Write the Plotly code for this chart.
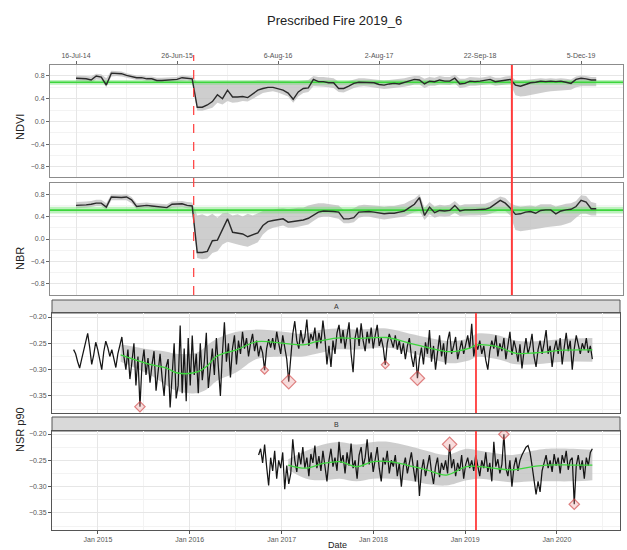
import pandas as pd
import plotly.graph_objects as go

W, H = 627, 550

# ---------------- top panels: per-observation index series ----------------
obs_tick_index = [0, 20, 40, 60, 80, 100]
obs_tick_labels = ["16-Jul-14", "26-Jun-15", "6-Aug-16", "2-Aug-17", "22-Sep-18", "5-Dec-19"]

ndvi = [0.76, 0.76, 0.75, 0.73, 0.80, 0.78, 0.64, 0.85, 0.85, 0.84,
        0.81, 0.79, 0.77, 0.77, 0.75, 0.75, 0.72, 0.72, 0.73, 0.73,
        0.74, 0.77, 0.76, 0.75, 0.25, 0.25, 0.29, 0.35, 0.47, 0.40,
        0.55, 0.43, 0.43, 0.44, 0.42, 0.48, 0.55, 0.58, 0.60, 0.60,
        0.58, 0.55, 0.50, 0.39, 0.52, 0.58, 0.59, 0.74, 0.70, 0.70,
        0.68, 0.68, 0.58, 0.58, 0.62, 0.67, 0.69, 0.69, 0.68, 0.68,
        0.65, 0.64, 0.66, 0.67, 0.66, 0.69, 0.71, 0.74, 0.73, 0.66,
        0.71, 0.70, 0.73, 0.71, 0.71, 0.76, 0.66, 0.67, 0.71, 0.70,
        0.71, 0.72, 0.74, 0.70, 0.71, 0.73, 0.74, 0.64, 0.62, 0.65,
        0.68, 0.69, 0.71, 0.70, 0.71, 0.70, 0.71, 0.69, 0.67, 0.74,
        0.76, 0.75, 0.73, 0.73]
ndvi_lo = [0.71, 0.71, 0.70, 0.68, 0.74, 0.73, 0.60, 0.79, 0.80, 0.79,
           0.77, 0.75, 0.73, 0.73, 0.71, 0.71, 0.68, 0.68, 0.69, 0.69,
           0.70, 0.72, 0.72, 0.70, 0.19, 0.19, 0.21, 0.24, 0.33, 0.30,
           0.36, 0.33, 0.34, 0.36, 0.35, 0.40, 0.46, 0.50, 0.52, 0.53,
           0.51, 0.48, 0.44, 0.33, 0.44, 0.50, 0.52, 0.62, 0.62, 0.61,
           0.60, 0.59, 0.52, 0.51, 0.55, 0.59, 0.61, 0.62, 0.61, 0.60,
           0.58, 0.57, 0.58, 0.59, 0.59, 0.61, 0.63, 0.65, 0.65, 0.59,
           0.63, 0.63, 0.65, 0.64, 0.64, 0.67, 0.59, 0.60, 0.63, 0.63,
           0.64, 0.64, 0.66, 0.63, 0.64, 0.65, 0.66, 0.46, 0.44, 0.45,
           0.47, 0.49, 0.51, 0.52, 0.53, 0.54, 0.55, 0.56, 0.56, 0.60,
           0.62, 0.62, 0.62, 0.62]
ndvi_hi = [0.81, 0.81, 0.80, 0.79, 0.84, 0.83, 0.76, 0.89, 0.89, 0.88,
           0.85, 0.83, 0.81, 0.81, 0.79, 0.79, 0.77, 0.77, 0.77, 0.77,
           0.78, 0.81, 0.80, 0.79, 0.68, 0.68, 0.68, 0.69, 0.70, 0.70,
           0.71, 0.71, 0.70, 0.71, 0.70, 0.71, 0.72, 0.72, 0.72, 0.72,
           0.72, 0.71, 0.71, 0.70, 0.71, 0.72, 0.73, 0.80, 0.78, 0.78,
           0.77, 0.76, 0.70, 0.69, 0.71, 0.74, 0.76, 0.76, 0.75, 0.75,
           0.73, 0.72, 0.73, 0.74, 0.74, 0.76, 0.78, 0.80, 0.80, 0.75,
           0.78, 0.77, 0.80, 0.78, 0.78, 0.82, 0.75, 0.75, 0.78, 0.77,
           0.77, 0.78, 0.80, 0.77, 0.77, 0.79, 0.80, 0.73, 0.72, 0.73,
           0.74, 0.75, 0.76, 0.75, 0.76, 0.75, 0.76, 0.75, 0.74, 0.79,
           0.81, 0.80, 0.78, 0.78]

nbr = [0.60, 0.60, 0.61, 0.62, 0.64, 0.64, 0.57, 0.75, 0.74, 0.74,
       0.75, 0.70, 0.58, 0.59, 0.60, 0.59, 0.58, 0.57, 0.56, 0.62,
       0.63, 0.63, 0.60, 0.59, -0.24, -0.24, -0.22, -0.03, -0.02, 0.16,
       0.36, 0.12, 0.10, 0.09, 0.04, 0.08, 0.11, 0.24, 0.31, 0.33,
       0.34, 0.36, 0.30, 0.31, 0.32, 0.34, 0.37, 0.42, 0.48, 0.50,
       0.50, 0.49, 0.48, 0.36, 0.36, 0.38, 0.48, 0.49, 0.49, 0.48,
       0.47, 0.45, 0.46, 0.46, 0.48, 0.50, 0.56, 0.62, 0.74, 0.42,
       0.57, 0.47, 0.51, 0.50, 0.51, 0.60, 0.50, 0.52, 0.52, 0.52,
       0.52, 0.53, 0.56, 0.62, 0.69, 0.64, 0.55, 0.44, 0.45, 0.48,
       0.49, 0.46, 0.51, 0.52, 0.52, 0.45, 0.50, 0.52, 0.53, 0.58,
       0.69, 0.66, 0.54, 0.54]
nbr_lo = [0.55, 0.55, 0.56, 0.57, 0.59, 0.59, 0.52, 0.69, 0.69, 0.69,
          0.69, 0.64, 0.53, 0.54, 0.55, 0.54, 0.53, 0.52, 0.51, 0.56,
          0.57, 0.57, 0.55, 0.54, -0.34, -0.36, -0.35, -0.25, -0.22, -0.10,
          -0.05, -0.08, -0.10, -0.12, -0.14, -0.10, -0.06, 0.08, 0.16, 0.20,
          0.22, 0.24, 0.20, 0.20, 0.22, 0.24, 0.26, 0.32, 0.38, 0.40,
          0.40, 0.38, 0.36, 0.28, 0.28, 0.30, 0.38, 0.40, 0.40, 0.38,
          0.37, 0.35, 0.36, 0.37, 0.38, 0.40, 0.44, 0.48, 0.50, 0.34,
          0.44, 0.38, 0.41, 0.40, 0.41, 0.47, 0.41, 0.42, 0.42, 0.42,
          0.42, 0.43, 0.45, 0.48, 0.52, 0.50, 0.42, 0.16, 0.14, 0.15,
          0.16, 0.17, 0.19, 0.21, 0.22, 0.22, 0.24, 0.27, 0.30, 0.38,
          0.45, 0.45, 0.42, 0.42]
nbr_hi = [0.66, 0.66, 0.67, 0.68, 0.70, 0.70, 0.64, 0.80, 0.79, 0.79,
          0.80, 0.75, 0.64, 0.65, 0.65, 0.64, 0.63, 0.62, 0.62, 0.67,
          0.68, 0.68, 0.66, 0.65, 0.42, 0.44, 0.40, 0.45, 0.38, 0.46,
          0.47, 0.42, 0.44, 0.40, 0.45, 0.42, 0.46, 0.50, 0.52, 0.52,
          0.54, 0.55, 0.53, 0.55, 0.56, 0.56, 0.60, 0.62, 0.64, 0.64,
          0.63, 0.62, 0.60, 0.52, 0.52, 0.55, 0.60, 0.61, 0.61, 0.60,
          0.59, 0.58, 0.59, 0.59, 0.61, 0.63, 0.68, 0.72, 0.80, 0.56,
          0.66, 0.58, 0.61, 0.60, 0.61, 0.68, 0.60, 0.62, 0.62, 0.62,
          0.62, 0.63, 0.66, 0.71, 0.76, 0.73, 0.64, 0.60, 0.58, 0.59,
          0.60, 0.58, 0.62, 0.62, 0.62, 0.58, 0.61, 0.63, 0.64, 0.68,
          0.78, 0.77, 0.66, 0.64]

# pre-fire reference level: (lower, mean, upper)
ndvi_ref = [0.645, 0.69, 0.73]
nbr_ref = [0.455, 0.515, 0.575]

fire_2015_obs = 23.3
fire_2019_obs = 86.3
fire_2019_date = "2019-02-13"

# ---------------- bottom panels: 8-day NSR p90 series ----------------
step = "8D"
a_start = "2014-09-26"
b_start = "2016-10-01"

a_vals = [
    -0.262, -0.270, -0.285, -0.297, -0.280, -0.262, -0.245, -0.231, -0.258, -0.290,
    -0.272, -0.248, -0.262, -0.284, -0.300, -0.266, -0.246, -0.258, -0.275, -0.262,
    -0.280, -0.296, -0.270, -0.252, -0.238,
    -0.275, -0.300, -0.262, -0.318, -0.285, -0.250, -0.330, -0.275, -0.3705, -0.290,
    -0.262, -0.310, -0.278, -0.325, -0.290, -0.265, -0.340, -0.300, -0.270, -0.315,
    -0.350, -0.295, -0.280, -0.372, -0.300, -0.250, -0.355, -0.330, -0.216, -0.345,
    -0.260, -0.360, -0.240, -0.330,
    -0.235, -0.310, -0.270, -0.345, -0.250, -0.320, -0.285, -0.230, -0.335, -0.290,
    -0.260, -0.310, -0.240, -0.295, -0.350, -0.270, -0.210, -0.285, -0.250, -0.315,
    -0.260, -0.235, -0.290, -0.245, -0.270, -0.228, -0.260, -0.240, -0.275, -0.250,
    -0.232, -0.265, -0.245, -0.275, -0.255, -0.268, -0.301, -0.260, -0.242, -0.258,
    -0.240, -0.262, -0.228, -0.250, -0.270, -0.235, -0.255, -0.280, -0.323, -0.268,
    -0.232, -0.208, -0.245, -0.260, -0.225, -0.250, -0.238, -0.205, -0.255, -0.232,
    -0.245, -0.220, -0.260, -0.230, -0.250, -0.207, -0.240, -0.290, -0.255, -0.295,
    -0.245, -0.270, -0.230, -0.215, -0.250, -0.225, -0.260, -0.235, -0.210, -0.270,
    -0.305, -0.240, -0.220, -0.255, -0.212, -0.245, -0.265, -0.228, -0.250, -0.220,
    -0.260, -0.235, -0.215, -0.255, -0.240, -0.258, -0.291, -0.250, -0.232, -0.245,
    -0.258, -0.235, -0.262, -0.245, -0.270, -0.250, -0.280, -0.255, -0.240, -0.275,
    -0.295, -0.265, -0.3165, -0.280, -0.258, -0.290, -0.248, -0.270, -0.225, -0.285,
    -0.255, -0.300, -0.262, -0.235, -0.275, -0.250, -0.290, -0.245, -0.228, -0.270,
    -0.255, -0.238, -0.280, -0.260, -0.245, -0.270, -0.250, -0.235, -0.260, -0.213,
    -0.275, -0.250,
    -0.262, -0.245, -0.270, -0.255, -0.282, -0.300, -0.265, -0.245, -0.260, -0.235,
    -0.275, -0.250, -0.265, -0.240, -0.280, -0.258, -0.228, -0.272, -0.245, -0.260,
    -0.285, -0.252, -0.298, -0.265, -0.240, -0.270, -0.255, -0.232, -0.275, -0.295,
    -0.262, -0.245, -0.270, -0.250, -0.225, -0.270, -0.255, -0.295, -0.262, -0.245,
    -0.270, -0.240, -0.290, -0.258, -0.230, -0.265, -0.245, -0.300, -0.260, -0.235,
    -0.255, -0.270, -0.250, -0.262, -0.240, -0.268, -0.255, -0.280]

b_vals = [
    -0.240, -0.228, -0.255, -0.220, -0.262, -0.298, -0.245, -0.270, -0.232, -0.285,
    -0.250, -0.265, -0.235, -0.305, -0.260, -0.295, -0.275, -0.210, -0.250, -0.272,
    -0.235, -0.258, -0.225, -0.265, -0.245, -0.280, -0.238, -0.255, -0.222, -0.265,
    -0.242, -0.270, -0.232, -0.258, -0.290, -0.250, -0.228, -0.262, -0.245, -0.270,
    -0.215, -0.255, -0.240, -0.275, -0.235, -0.260, -0.218, -0.265, -0.250, -0.285,
    -0.240, -0.225, -0.262, -0.245, -0.210, -0.258, -0.235, -0.272, -0.250, -0.225,
    -0.265, -0.290, -0.245, -0.258, -0.232, -0.275, -0.250, -0.262, -0.240, -0.280,
    -0.255, -0.300, -0.262, -0.245, -0.275, -0.255, -0.235, -0.265, -0.290, -0.250,
    -0.318, -0.270, -0.248, -0.280, -0.258, -0.240, -0.272, -0.295, -0.262, -0.245,
    -0.282, -0.255, -0.268, -0.250, -0.275, -0.2196, -0.265, -0.248, -0.280, -0.255,
    -0.270, -0.240, -0.285, -0.258, -0.245, -0.265, -0.250, -0.270, -0.240, -0.262,
    -0.280, -0.250, -0.265, -0.235, -0.272, -0.255, -0.290, -0.215, -0.262, -0.248,
    -0.275, -0.258, -0.2005, -0.265, -0.280, -0.250, -0.300, -0.262, -0.245, -0.270,
    -0.250, -0.240, -0.232, -0.225, -0.222, -0.235, -0.260, -0.285, -0.315, -0.290,
    -0.310, -0.270, -0.252, -0.240, -0.265, -0.250, -0.272, -0.238, -0.260, -0.245,
    -0.275, -0.240, -0.255, -0.232, -0.268, -0.250, -0.245, -0.3335, -0.260, -0.240,
    -0.268, -0.250, -0.285, -0.245, -0.260, -0.235, -0.228]

a_smooth_dates = ["2015-04-01", "2015-07-26", "2015-10-01", "2015-11-09", "2016-01-28",
                  "2016-03-08", "2016-04-16", "2016-07-05", "2016-09-23", "2017-01-07",
                  "2017-03-27", "2017-05-19", "2017-08-07", "2017-10-25", "2018-02-22",
                  "2018-05-26", "2018-08-13", "2018-10-31", "2019-01-19", "2019-02-15",
                  "2019-05-05", "2019-07-23", "2019-10-11", "2020-01-25", "2020-05-21"]
a_smooth = [-0.272, -0.290, -0.297, -0.306, -0.305, -0.294, -0.275, -0.2625, -0.247, -0.250,
            -0.253, -0.247, -0.240, -0.241, -0.239, -0.250, -0.259, -0.266, -0.259, -0.253,
            -0.256, -0.269, -0.268, -0.263, -0.2625]
a_band_hi = [-0.252, -0.262, -0.266, -0.270, -0.268, -0.255, -0.242, -0.228, -0.224, -0.228,
             -0.232, -0.226, -0.222, -0.224, -0.222, -0.232, -0.240, -0.246, -0.240, -0.232,
             -0.234, -0.245, -0.246, -0.242, -0.240]
a_band_lo = [-0.285, -0.310, -0.330, -0.340, -0.345, -0.338, -0.322, -0.305, -0.280, -0.275,
             -0.275, -0.270, -0.262, -0.262, -0.258, -0.268, -0.278, -0.288, -0.282, -0.276,
             -0.280, -0.290, -0.290, -0.285, -0.285]

b_smooth_dates = ["2017-01-27", "2017-04-09", "2017-06-15", "2017-08-20", "2017-10-25",
                  "2017-12-31", "2018-03-07", "2018-05-13", "2018-07-31", "2018-10-18",
                  "2019-01-06", "2019-02-28", "2019-04-22", "2019-07-09", "2019-09-27",
                  "2019-11-19", "2020-03-06", "2020-05-21"]
b_smooth = [-0.259, -0.265, -0.256, -0.2525, -0.262, -0.2525, -0.2525, -0.259, -0.268, -0.278,
            -0.262, -0.262, -0.265, -0.268, -0.262, -0.259, -0.259, -0.259]
b_band_hi = [-0.248, -0.232, -0.220, -0.215, -0.220, -0.215, -0.215, -0.222, -0.232, -0.240,
             -0.228, -0.232, -0.236, -0.240, -0.232, -0.228, -0.228, -0.230]
b_band_lo = [-0.268, -0.285, -0.288, -0.285, -0.290, -0.285, -0.285, -0.288, -0.295, -0.298,
             -0.288, -0.285, -0.288, -0.292, -0.290, -0.290, -0.290, -0.288]

# flagged anomalies (score 1..3 sets the marker size)
a_anom_dates = ["2015-06-17", "2016-10-25", "2017-01-29", "2018-02-17", "2018-06-25"]
a_anom_vals = [-0.3705, -0.301, -0.323, -0.291, -0.3165]
a_anom_score = [2, 1, 3, 1, 3]
b_anom_dates = ["2018-10-31", "2019-06-04", "2020-03-10"]
b_anom_vals = [-0.2196, -0.2005, -0.3335]
b_anom_score = [3, 2, 2]

# ---------------- styling ----------------
FONT = "Liberation Sans, Arial, Helvetica, sans-serif"
GRID = "#e6e6e6"
MINOR = "#f3f3f3"
TICKFONT = dict(family=FONT, size=7, color="#555555")
LINE_DARK = "#2a2a2a"
GREEN = "#3cd63c"
GRAY_BAND = "rgba(190,190,190,0.75)"
RED = "#ff3b3b"


def px_x(p):
    return p / W


def px_y(p):
    return 1 - p / H


obs = list(range(len(ndvi)))
obs_range = [-5.15, 108.3]

fig = go.Figure()


def add_band(x, lo, hi, xa, ya, color, shape="linear"):
    fig.add_trace(go.Scatter(x=x, y=lo, mode="lines", line=dict(width=0, shape=shape),
                             xaxis=xa, yaxis=ya, showlegend=False, hoverinfo="skip"))
    fig.add_trace(go.Scatter(x=x, y=hi, mode="lines", line=dict(width=0, shape=shape),
                             fill="tonexty", fillcolor=color,
                             xaxis=xa, yaxis=ya, showlegend=False, hoverinfo="skip"))


# top panels: spectral index with spread and pre-fire reference level
for series, lo, hi, ref, xa, ya in [(ndvi, ndvi_lo, ndvi_hi, ndvi_ref, "x", "y"),
                                     (nbr, nbr_lo, nbr_hi, nbr_ref, "x2", "y2")]:
    add_band(obs, lo, hi, xa, ya, GRAY_BAND)
    add_band(obs_range, [ref[0], ref[0]], [ref[2], ref[2]], xa, ya, "rgba(110,225,110,0.45)")
    fig.add_trace(go.Scatter(x=obs_range, y=[ref[1], ref[1]], mode="lines",
                             line=dict(color=GREEN, width=1.6),
                             xaxis=xa, yaxis=ya, showlegend=False))
    fig.add_trace(go.Scatter(x=obs, y=series, mode="lines",
                             line=dict(color=LINE_DARK, width=1.4),
                             xaxis=xa, yaxis=ya, showlegend=False))

# bottom panels: NSR p90
a_dates = pd.date_range(a_start, periods=len(a_vals), freq=step)
b_dates = pd.date_range(b_start, periods=len(b_vals), freq=step)
size_for_score = {1: 6, 2: 8, 3: 11}

for dates, vals, sd, sm, blo, bhi, ad, av, asc, xa, ya in [
        (a_dates, a_vals, a_smooth_dates, a_smooth, a_band_lo, a_band_hi,
         a_anom_dates, a_anom_vals, a_anom_score, "x3", "y3"),
        (b_dates, b_vals, b_smooth_dates, b_smooth, b_band_lo, b_band_hi,
         b_anom_dates, b_anom_vals, b_anom_score, "x4", "y4")]:
    add_band(sd, blo, bhi, xa, ya, GRAY_BAND, shape="spline")
    fig.add_trace(go.Scatter(x=dates, y=vals, mode="lines",
                             line=dict(color="#151515", width=1.25),
                             xaxis=xa, yaxis=ya, showlegend=False))
    fig.add_trace(go.Scatter(x=sd, y=sm, mode="lines",
                             line=dict(color=GREEN, width=1.3, shape="spline"),
                             xaxis=xa, yaxis=ya, showlegend=False))
    fig.add_trace(go.Scatter(x=ad, y=av, mode="markers",
                             marker=dict(symbol="diamond", size=[size_for_score[s] for s in asc],
                                         color="rgba(235,150,150,0.45)",
                                         line=dict(color="#d24b4b", width=1.2)),
                             xaxis=xa, yaxis=ya, showlegend=False))

top_x_common = dict(range=obs_range, domain=[px_x(50), px_x(623)], tickmode="array",
                    tickvals=obs_tick_index, ticktext=obs_tick_labels,
                    showgrid=True, gridcolor=GRID, gridwidth=1,
                    minor=dict(tickvals=[10, 30, 50, 70, 90], showgrid=True, gridcolor=MINOR),
                    zeroline=False, showline=True, mirror=True, linecolor="#8c8c8c",
                    tickfont=TICKFONT, tickcolor="#666")
top_y_common = dict(tickmode="array", tickvals=[-0.8, -0.4, 0.0, 0.4, 0.8],
                    ticktext=["\u22120.8", "\u22120.4", "0.0", "0.4", "0.8"],
                    showgrid=True, gridcolor=GRID,
                    minor=dict(tickvals=[-0.6, -0.2, 0.2, 0.6], showgrid=True, gridcolor=MINOR),
                    zeroline=False, showline=True, mirror=True, linecolor="#8c8c8c",
                    ticks="outside", ticklen=3, tickcolor="#666", tickfont=TICKFONT)

date_range = ["2014-07-02", "2020-09-08"]
bot_x_common = dict(type="date", range=date_range, domain=[px_x(52), px_x(620)],
                    tick0="2015-01-01", dtick="M12", tickformat="%b %Y",
                    showgrid=True, gridcolor=GRID,
                    minor=dict(tick0="2015-01-01", dtick="M6", showgrid=True, gridcolor=MINOR),
                    zeroline=False, showline=True, mirror=True, linecolor="#555",
                    tickfont=TICKFONT, tickcolor="#555")
bot_y_common = dict(tickmode="array", tickvals=[-0.35, -0.30, -0.25, -0.20],
                    ticktext=["\u22120.35", "\u22120.30", "\u22120.25", "\u22120.20"],
                    showgrid=True, gridcolor=GRID,
                    minor=dict(tickvals=[-0.375, -0.325, -0.275, -0.225], showgrid=True,
                               gridcolor=MINOR),
                    zeroline=False, showline=True, mirror=True, linecolor="#555",
                    ticks="outside", ticklen=3, tickcolor="#555", tickfont=TICKFONT)

fig.update_layout(
    width=W, height=H, autosize=False,
    margin=dict(l=0, r=0, t=0, b=0),
    paper_bgcolor="white", plot_bgcolor="white",
    font=dict(family=FONT),
    showlegend=False,
    xaxis=dict(**top_x_common, anchor="y", side="top", ticks="outside", ticklen=3),
    yaxis=dict(**top_y_common, anchor="x", range=[-0.976, 0.993],
               domain=[px_y(177), px_y(65)]),
    xaxis2=dict(**top_x_common, anchor="y2", showticklabels=False, ticks=""),
    yaxis2=dict(**top_y_common, anchor="x2", range=[-1.0, 1.0],
                domain=[px_y(295), px_y(183)]),
    xaxis3=dict(**bot_x_common, anchor="y3", showticklabels=False, ticks=""),
    yaxis3=dict(**bot_y_common, anchor="x3", range=[-0.3825, -0.1924],
                domain=[px_y(413), px_y(313)]),
    xaxis4=dict(**bot_x_common, anchor="y4", ticks="outside", ticklen=3),
    yaxis4=dict(**bot_y_common, anchor="x4", range=[-0.3825, -0.1943],
                domain=[px_y(530), px_y(431)]),
)

shapes = []
# facet strips
for top, bottom in [(300, 313), (417, 431)]:
    shapes.append(dict(type="rect", xref="paper", yref="paper",
                       x0=px_x(52), x1=px_x(620), y0=px_y(bottom), y1=px_y(top),
                       fillcolor="#d9d9d9", line=dict(color="#555", width=1), layer="below"))
# fire markers on the index panels
shapes.append(dict(type="line", xref="x", yref="paper", x0=fire_2015_obs, x1=fire_2015_obs,
                   y0=px_y(295), y1=px_y(55), line=dict(color=RED, width=1.2, dash="dash")))
shapes.append(dict(type="line", xref="x", yref="paper", x0=fire_2019_obs, x1=fire_2019_obs,
                   y0=px_y(295), y1=px_y(65), line=dict(color=RED, width=2)))
# fire marker on the NSR panels
for xa, ya in [("x3", "y3"), ("x4", "y4")]:
    shapes.append(dict(type="line", xref=xa, yref=f"{ya} domain",
                       x0=fire_2019_date, x1=fire_2019_date, y0=0, y1=1,
                       line=dict(color=RED, width=1.8)))
fig.update_layout(shapes=shapes)


def label(text, x, y, size, angle=0, color="#222"):
    return dict(text=text, x=px_x(x), y=px_y(y), xref="paper", yref="paper",
                xanchor="center", yanchor="middle", showarrow=False, textangle=angle,
                font=dict(size=size, color=color))


fig.update_layout(annotations=[
    label("Prescribed Fire 2019_6", 334, 20, 13),
    label("A", 336, 306.5, 7, color="#333"),
    label("B", 336, 424, 7, color="#333"),
    label("NDVI", 20, 127, 11, angle=-90),
    label("NBR", 20, 259, 11, angle=-90),
    label("NSR p90", 20, 430, 11, angle=-90),
    label("Date", 337, 545, 9),
])

fig.write_html("out.html")
